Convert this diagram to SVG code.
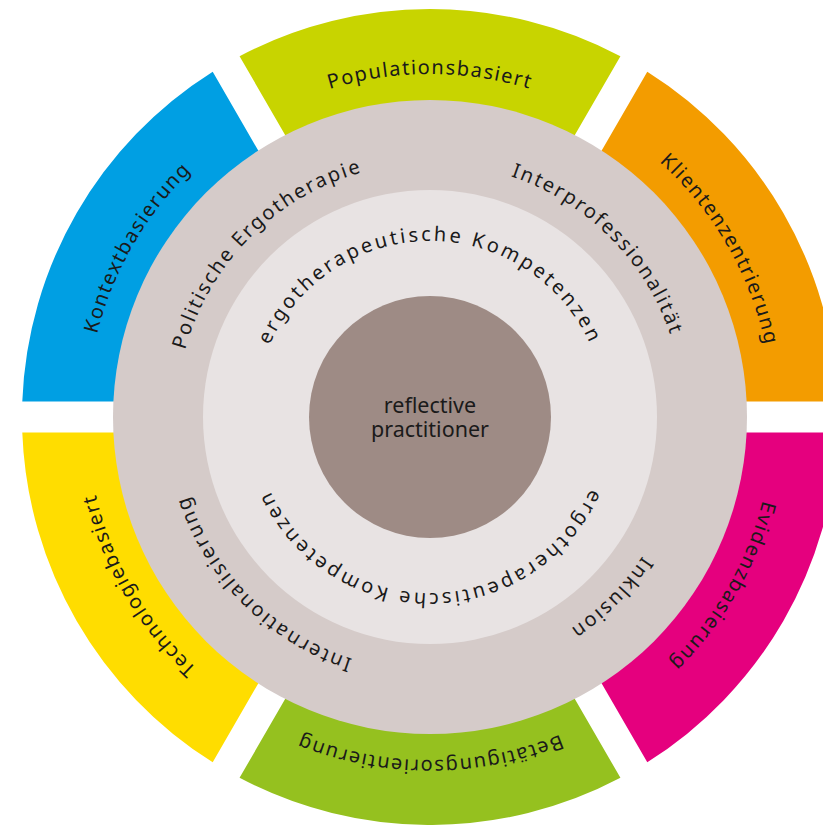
<svg xmlns="http://www.w3.org/2000/svg" width="823" height="825" viewBox="0 0 823 825">
<style>
  text { font-family: "Noto Sans", "Open Sans", "DejaVu Sans", sans-serif; fill: #1a1a1a; text-anchor: middle; }
  .outer { font-size: 20px; letter-spacing: 1.5px; }
  .mid { font-size: 20px; letter-spacing: 2px; }
  .inner { font-size: 20px; letter-spacing: 2.8px; }
  .center { font-size: 21.5px; }
</style>
<defs>
  <path id="seg" d="M -190.43 -360.84 A 408 408 0 0 1 190.43 -360.84 L 141.38 -275.88 A 310 310 0 0 0 -141.38 -275.88 Z"/>
  <path id="tp-pop" d="M 87 417 A 343 343 0 0 1 430 74 A 343 343 0 0 1 773 417"/>
  <path id="tp-kli" d="M 258.5 119.95 A 343 343 0 0 1 727.05 245.5 A 343 343 0 0 1 601.5 714.05"/>
  <path id="tp-evi" d="M 601.5 119.95 A 343 343 0 0 1 727.05 588.5 A 343 343 0 0 1 258.5 714.05"/>
  <path id="tp-bet" d="M 773 417 A 343 343 0 0 1 430 760 A 343 343 0 0 1 87 417"/>
  <path id="tp-tec" d="M 601.5 714.05 A 343 343 0 0 1 132.95 588.5 A 343 343 0 0 1 258.5 119.95"/>
  <path id="tp-kon" d="M 258.5 714.05 A 343 343 0 0 1 132.95 245.5 A 343 343 0 0 1 601.5 119.95"/>
  <path id="tp-pol" d="M 250.39 596.61 A 254 254 0 0 1 250.39 237.39 A 254 254 0 0 1 609.61 237.39"/>
  <path id="tp-int" d="M 250.39 237.39 A 254 254 0 0 1 609.61 237.39 A 254 254 0 0 1 609.61 596.61"/>
  <path id="tp-ink" d="M 609.61 237.39 A 254 254 0 0 1 609.61 596.61 A 254 254 0 0 1 250.39 596.61"/>
  <path id="tp-inr" d="M 609.61 596.61 A 254 254 0 0 1 250.39 596.61 A 254 254 0 0 1 250.39 237.39"/>
  <path id="tp-in-top" d="M 254 417 A 176 176 0 0 1 430 241 A 176 176 0 0 1 606 417"/>
  <path id="tp-in-bot" d="M 606 417 A 176 176 0 0 1 430 593 A 176 176 0 0 1 254 417"/>
</defs>

<g id="outer-segments">
  <g id="seg-populationsbasiert">
    <use href="#seg" transform="translate(430 417)" fill="#C8D400"/>
    <text class="outer"><textPath href="#tp-pop" startOffset="50%">Populationsbasiert</textPath></text>
  </g>
  <g id="seg-klientenzentrierung">
    <use href="#seg" transform="translate(430 417) rotate(60)" fill="#F39C00"/>
    <text class="outer"><textPath href="#tp-kli" startOffset="50%">Klientenzentrierung</textPath></text>
  </g>
  <g id="seg-evidenzbasierung">
    <use href="#seg" transform="translate(430 417) rotate(120)" fill="#E5007E"/>
    <text class="outer"><textPath href="#tp-evi" startOffset="50%">Evidenzbasierung</textPath></text>
  </g>
  <g id="seg-betaetigungsorientierung">
    <use href="#seg" transform="translate(430 417) rotate(180)" fill="#95C11F"/>
    <text class="outer"><textPath href="#tp-bet" startOffset="50%">Betätigungsorientierung</textPath></text>
  </g>
  <g id="seg-technologiebasiert">
    <use href="#seg" transform="translate(430 417) rotate(240)" fill="#FFDD00"/>
    <text class="outer"><textPath href="#tp-tec" startOffset="50%">Technologiebasiert</textPath></text>
  </g>
  <g id="seg-kontextbasierung">
    <use href="#seg" transform="translate(430 417) rotate(300)" fill="#009FE3"/>
    <text class="outer"><textPath href="#tp-kon" startOffset="50%">Kontextbasierung</textPath></text>
  </g>
</g>

<g id="ring-middle">
  <circle cx="430" cy="417" r="317" fill="#D5CBC9"/>
  <text class="mid"><textPath href="#tp-pol" startOffset="50%">Politische Ergotherapie</textPath></text>
  <text class="mid"><textPath href="#tp-int" startOffset="50%">Interprofessionalität</textPath></text>
  <text class="mid"><textPath href="#tp-ink" startOffset="50%">Inklusion</textPath></text>
  <text class="mid"><textPath href="#tp-inr" startOffset="50%">Internationalisierung</textPath></text>
</g>

<g id="ring-inner">
  <circle cx="430" cy="417" r="227" fill="#E8E3E3"/>
  <text class="inner"><textPath href="#tp-in-top" startOffset="50%">ergotherapeutische Kompetenzen</textPath></text>
  <text class="inner"><textPath href="#tp-in-bot" startOffset="50%">ergotherapeutische Kompetenzen</textPath></text>
</g>

<g id="center">
  <circle cx="430" cy="417" r="121" fill="#9E8B85"/>
  <text class="center" x="430" y="413">reflective</text>
  <text class="center" x="430" y="437">practitioner</text>
</g>

<g id="connectors"/>
</svg>
